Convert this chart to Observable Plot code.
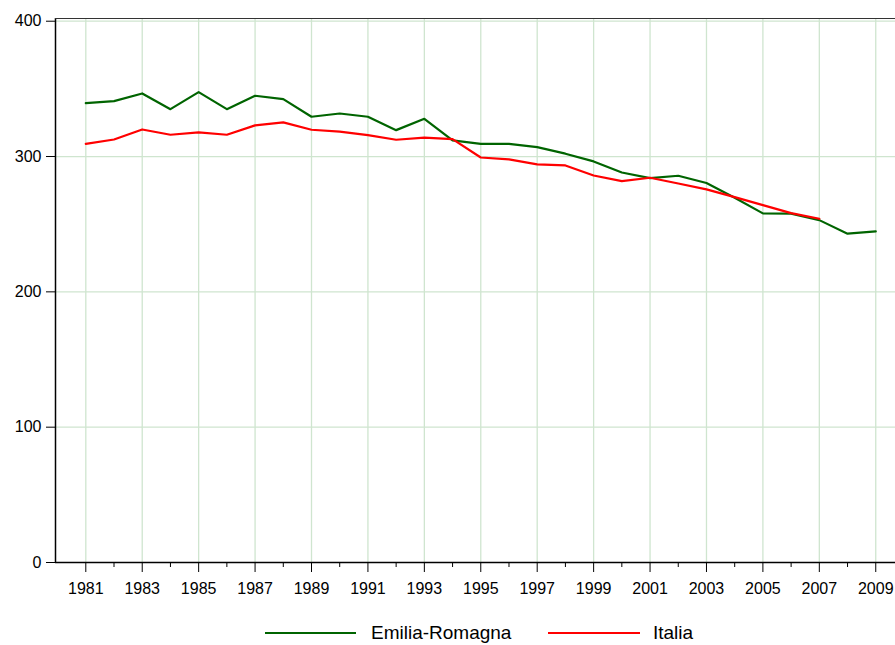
<!DOCTYPE html>
<html>
<head>
<meta charset="utf-8">
<script src="https://cdn.jsdelivr.net/npm/d3@7"></script>
<script src="https://cdn.jsdelivr.net/npm/@observablehq/plot@0.6"></script>
<style>
  html, body { margin: 0; padding: 0; background: #fff; }
  body { width: 895px; height: 645px; position: relative; overflow: hidden; font-family: "Liberation Sans", Arial, sans-serif; }
  #chart svg text { font-size: 16px !important; font-family: "Liberation Sans", Arial, sans-serif !important; }
  #legend { position: absolute; left: 0; top: 600px; width: 895px; height: 45px; font-size: 19px; color: #000; }
  .sw { position: absolute; height: 2px; top: 32px; }
  .lb { position: absolute; top: 22px; line-height: 22px; }
</style>
</head>
<body>
<div id="chart"></div>
<div id="legend"></div>
<script>
const years = d3.range(1981, 2010);
const emiliaRomagna = [339.4, 340.9, 346.6, 335.0, 347.6, 335.0, 344.9, 342.4, 329.4, 331.8, 329.4, 319.5, 327.9, 311.9, 309.4, 309.4, 306.9, 302.1, 296.4, 288.2, 284.1, 285.8, 280.4, 269.6, 258.0, 257.8, 253.0, 243.0, 244.7];
const italiaYears = d3.range(1981, 2008);
const italia = [309.4, 312.6, 320.0, 316.1, 317.8, 316.1, 323.0, 325.2, 319.8, 318.4, 315.8, 312.4, 313.9, 312.9, 299.3, 297.9, 294.2, 293.4, 286.0, 281.8, 284.3, 280.1, 275.7, 270.0, 264.1, 258.2, 254.0];
const seriesNames = ["Emilia-Romagna", "Italia"];
const seriesColors = ["#006400", "#ff0000"];
const yTicks = [0, 100, 200, 300, 400];
const xMajor = d3.range(1981, 2010, 2);
const xMinor = d3.range(1982, 2010, 2);

const er = years.map((y, i) => ({year: y, value: emiliaRomagna[i]}));
const it = italiaYears.map((y, i) => ({year: y, value: italia[i]}));
const grid = "#cfe5cf";

const chart = Plot.plot({
  width: 895,
  height: 600,
  marginLeft: 55,
  marginRight: 0,
  marginTop: 18,
  marginBottom: 38,
  style: {fontFamily: "Liberation Sans, Arial, sans-serif", fontSize: "16px", color: "#000", background: "#fff", overflow: "visible"},
  x: {domain: [1979.926, 2009.70]},
  y: {domain: [0, 402]},
  marks: [
    Plot.ruleY(yTicks.slice(1), {stroke: grid, strokeWidth: 1.3, strokeOpacity: 1}),
    Plot.ruleX(xMajor, {stroke: grid, strokeWidth: 1.3, strokeOpacity: 1}),
    Plot.axisY({ticks: yTicks, tickSize: 9, tickPadding: 5, label: null, stroke: "#000", strokeOpacity: 1, fontSize: 16}),
    Plot.axisX({ticks: xMinor, tickSize: 5, tickFormat: () => "", label: null, stroke: "#000", strokeOpacity: 1}),
    Plot.axisX({ticks: xMajor, tickSize: 10, tickPadding: 10, tickFormat: d => String(d), label: null, stroke: "#000", strokeOpacity: 1, fontSize: 16}),
    Plot.ruleX([1979.926], {stroke: "#000", strokeWidth: 1.5}),
    Plot.ruleY([0], {stroke: "#000", strokeWidth: 1.5}),
    Plot.ruleY([402], {stroke: "#333", strokeWidth: 1.2}),
    Plot.line(er, {x: "year", y: "value", stroke: seriesColors[0], strokeWidth: 2.2}),
    Plot.line(it, {x: "year", y: "value", stroke: seriesColors[1], strokeWidth: 2.2})
  ]
});
document.getElementById("chart").appendChild(chart);

const legend = document.getElementById("legend");
const layout = [{x: 265, w: 91, tx: 371}, {x: 548, w: 92, tx: 653}];
seriesNames.forEach((name, i) => {
  const sw = document.createElement("div");
  sw.className = "sw";
  sw.style.left = layout[i].x + "px";
  sw.style.width = layout[i].w + "px";
  sw.style.background = seriesColors[i];
  legend.appendChild(sw);
  const lb = document.createElement("div");
  lb.className = "lb";
  lb.style.left = layout[i].tx + "px";
  lb.textContent = name;
  legend.appendChild(lb);
});
</script>
</body>
</html>
